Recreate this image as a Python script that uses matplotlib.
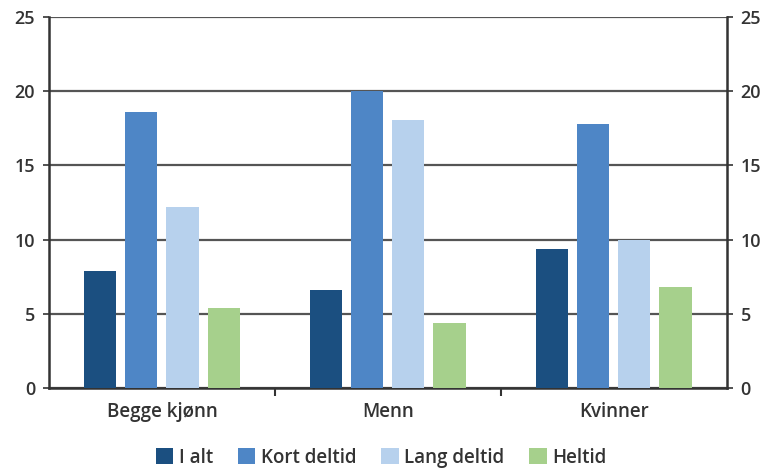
import numpy as np
import matplotlib.pyplot as plt

categories = ["Begge kjønn", "Menn", "Kvinner"]
series_names = ["I alt", "Kort deltid", "Lang deltid", "Heltid"]
i_alt = [7.9, 6.6, 9.4]
kort_deltid = [18.6, 20.0, 17.8]
lang_deltid = [12.2, 18.1, 10.0]
heltid = [5.4, 4.4, 6.8]
colors = ["#1b4f80", "#4e86c6", "#b7d1ed", "#a6d08c"]

plt.rcParams['font.family'] = ['Open Sans', 'DejaVu Sans']
plt.rcParams['font.weight'] = 600

fig = plt.figure(figsize=(7.65, 4.70), dpi=100)
ax = fig.add_axes([0.064, 0.1745, 0.886, 0.789])

x = np.arange(len(categories))
width = 0.142
step = 0.182
for i, (name, vals) in enumerate(zip(series_names, [i_alt, kort_deltid, lang_deltid, heltid])):
    ax.bar(x + (i - 1.5) * step, vals, width, color=colors[i], label=name, zorder=3)

ax.set_xlim(-0.5, 2.5)
ax.set_ylim(0, 25)
ax.set_yticks(np.arange(0, 26, 5))
ax.yaxis.grid(True, color="#555555", linewidth=1.6, zorder=1)

ax.set_xticks(x)
ax.set_xticklabels(categories, fontsize=13.5, color="#333333")
ax.tick_params(axis="x", length=0, pad=10)
ax.set_xticks([0.5, 1.5], minor=True)
ax.tick_params(axis="x", which="minor", length=6, width=1.5, color="#333333", direction="out")

ax.tick_params(axis="y", length=4, width=1.2, color="#333333", labelsize=13, labelcolor="#333333",
               left=True, right=True, labelleft=True, labelright=True, pad=6)

for s in ["left", "right", "bottom"]:
    ax.spines[s].set_color("#333333")
    ax.spines[s].set_linewidth(1.8)
ax.spines["top"].set_visible(False)

ax.legend(loc="upper center", bbox_to_anchor=(0.49, -0.115), ncol=4, frameon=False,
          fontsize=13.5, handlelength=0.95, handleheight=0.95, handletextpad=0.3, columnspacing=1.3,
          labelcolor="#333333")

fig.savefig("out.png", dpi=100)
